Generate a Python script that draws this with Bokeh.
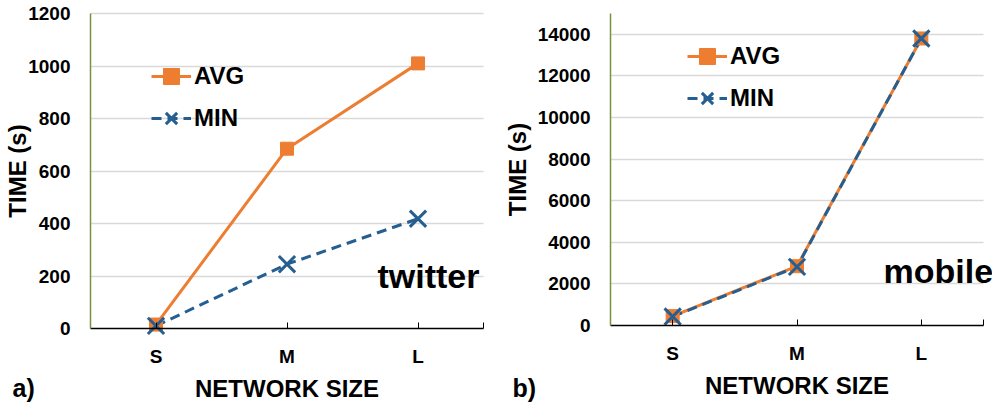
from bokeh.plotting import figure
from bokeh.layouts import row
from bokeh.models import (Range1d, FixedTicker, Legend, LegendItem, Label,
                          LinearAxis, Grid)
from bokeh.embed import file_html
from bokeh.resources import INLINE

# ---- data ----
sizes = ["S", "M", "L"]
twitter_avg = [15, 685, 1010]
twitter_min = [10, 245, 418]
mobile_avg = [450, 2850, 13800]
mobile_min = [430, 2820, 13800]
twitter_yticks = [0, 200, 400, 600, 800, 1000, 1200]
mobile_yticks = [0, 2000, 4000, 6000, 8000, 10000, 12000, 14000]

ORANGE = "#ED7D31"
BLUE = "#255E91"
FONT = "Liberation Sans"
H = 410
xs = list(range(len(sizes)))


def make_panel(avg, mn, yticks, ymax, name, tag, width, box, ystand, legend_loc, name_pos):
    # box = pixel margins (left, right, top, bottom) of the plotting area
    L, R, T, B = box
    x0, x1 = -0.5, len(sizes) - 0.5
    pxx = (width - L - R) / (x1 - x0)
    pxy = (H - T - B) / ymax
    p = figure(width=width, height=H, output_backend="svg", toolbar_location=None,
               x_range=Range1d(x0 - L / pxx, x1 + R / pxx),
               y_range=Range1d(-B / pxy, ymax + T / pxy),
               x_axis_location=None, y_axis_location=None, min_border=0)
    p.outline_line_color = None
    p.background_fill_color = "white"
    p.border_fill_color = "white"
    p.xgrid.visible = False
    p.ygrid.visible = False

    grid = Grid(dimension=1, ticker=FixedTicker(ticks=yticks[1:]),
                cross_bounds=(x0, x1), grid_line_color="#D9D9D9", grid_line_width=1.5)
    p.add_layout(grid, "center")

    xaxis = LinearAxis(fixed_location=0, bounds=(x0, x1),
                       ticker=FixedTicker(ticks=xs, minor_ticks=[x1]),
                       major_label_overrides={i: s for i, s in enumerate(sizes)})
    xaxis.axis_line_color = "black"
    xaxis.axis_line_width = 1.5
    xaxis.major_tick_in = 6
    xaxis.major_tick_out = 0
    xaxis.minor_tick_in = 6
    xaxis.minor_tick_out = 0
    xaxis.major_tick_line_color = "black"
    xaxis.minor_tick_line_color = "black"
    xaxis.major_label_standoff = 17
    xaxis.axis_label = "NETWORK SIZE"
    xaxis.axis_label_standoff = 5

    yaxis = LinearAxis(fixed_location=x0, bounds=(0, ymax), ticker=FixedTicker(ticks=yticks))
    yaxis.axis_line_color = "#77933C"
    yaxis.axis_line_width = 1.5
    yaxis.major_tick_in = 0
    yaxis.major_tick_out = 0
    yaxis.minor_tick_line_color = None
    yaxis.major_label_standoff = 20
    yaxis.axis_label = "TIME (s)"
    yaxis.axis_label_standoff = ystand

    for ax in (xaxis, yaxis):
        ax.major_label_text_font = FONT
        ax.major_label_text_font_style = "bold"
        ax.major_label_text_font_size = "19px"
        ax.major_label_text_color = "black"
        ax.axis_label_text_font = FONT
        ax.axis_label_text_font_style = "bold"
        ax.axis_label_text_font_size = "24px"
        ax.axis_label_text_color = "black"
    p.add_layout(xaxis, "below")
    p.add_layout(yaxis, "left")

    # series
    l_avg = p.line(xs, avg, line_color=ORANGE, line_width=3)
    l_min = p.line(xs, mn, line_color=BLUE, line_width=3, line_dash="10 6")
    m_avg = p.scatter(xs, avg, marker="square", size=13, fill_color=ORANGE, line_color=ORANGE)
    m_min = p.scatter(xs, mn, marker="x", size=23, line_color=BLUE, line_width=3)

    leg = Legend(items=[LegendItem(label="AVG", renderers=[l_avg, m_avg]),
                        LegendItem(label="MIN", renderers=[l_min, m_min])],
                 location=legend_loc)
    leg.border_line_color = None
    leg.background_fill_alpha = 0
    leg.padding = 0
    leg.margin = 0
    leg.spacing = 2
    leg.glyph_width = 40
    leg.glyph_height = 40
    leg.label_height = 24
    leg.label_standoff = 3
    leg.label_text_font = FONT
    leg.label_text_font_style = "bold"
    leg.label_text_font_size = "24px"
    leg.label_text_color = "black"
    leg.label_text_baseline = "middle"
    p.add_layout(leg, "center")

    p.add_layout(Label(x=name_pos[0], y=name_pos[1], x_units="screen", y_units="screen",
                       text=name, text_font=FONT, text_font_style="bold",
                       text_font_size="34px", text_color="black",
                       text_baseline="alphabetic", text_align="left"))
    p.add_layout(Label(x=12, y=23, x_units="screen", y_units="screen",
                       text=tag, text_font=FONT, text_font_style="bold",
                       text_font_size="25px",
                       text_color="black", text_baseline="alphabetic", text_align="left"))
    return p


p1 = make_panel(twitter_avg, twitter_min, twitter_yticks, 1200, "twitter", "a)", 500,
                (90, 17, 13, 82), -6, (151, 272), (377, 135))
p2 = make_panel(mobile_avg, mobile_min, mobile_yticks, 15000, "mobile", "b)", 492,
                (110, 9, 13, 85), 4, (187, 292), (383, 140))

layout = row(p1, p2)
open("out.html", "w").write(file_html(layout, INLINE))
